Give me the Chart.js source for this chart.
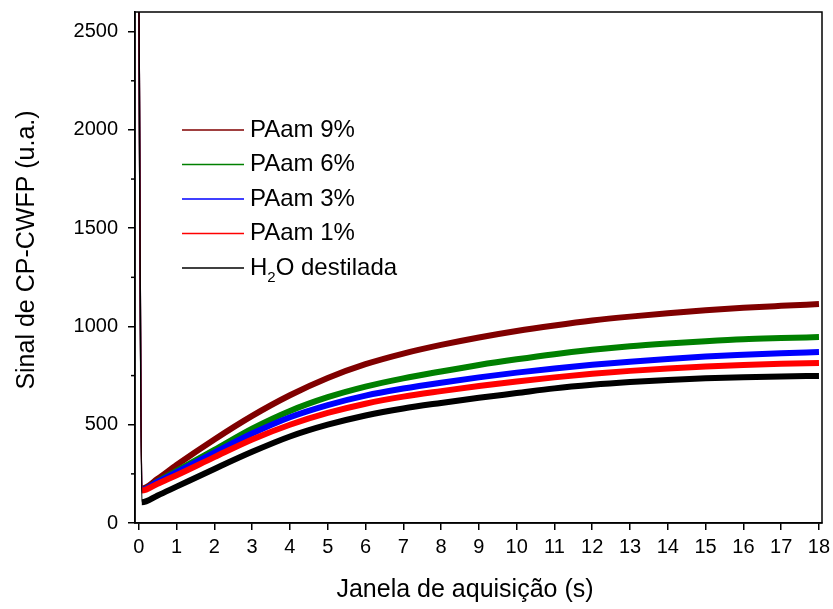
<!DOCTYPE html>
<html>
<head>
<meta charset="utf-8">
<script src="https://cdn.jsdelivr.net/npm/chart.js@4/dist/chart.umd.min.js"></script>
<style>
  html, body { margin: 0; padding: 0; background: #fff; }
  #wrap { width: 833px; height: 609px; }
</style>
</head>
<body>
<div id="wrap"><canvas id="chart" width="833" height="609"></canvas></div>
<script>
// acquisition time (s)
const times = [0, 0.08, 0.5, 1, 2, 3, 4, 5, 6, 7, 8, 9, 10, 11, 12, 13, 14, 15, 16, 17, 18]

// CP-CWFP signal (u.a.)
const paam9 = [2800, 175, 225, 295, 425, 545, 650, 738, 808, 862, 906, 944, 977, 1005, 1030, 1050, 1067, 1082, 1095, 1105, 1114]
const paam6 = [2800, 170, 212, 265, 372, 480, 570, 640, 694, 736, 771, 804, 833, 859, 881, 899, 913, 925, 935, 941, 946]
const paam3 = [2800, 170, 210, 258, 358, 455, 538, 600, 648, 684, 714, 741, 765, 786, 805, 821, 835, 847, 856, 864, 870]
const paam1 = [2800, 165, 200, 243, 335, 425, 500, 560, 607, 643, 671, 697, 720, 741, 759, 774, 786, 796, 804, 810, 814]
const agua = [2800, 105, 140, 185, 275, 362, 440, 500, 547, 583, 611, 637, 661, 685, 703, 717, 728, 736, 742, 746, 748]

const labels = ["PAam 9%", "PAam 6%", "PAam 3%", "PAam 1%", "H₂O destilada"]
const colors = ["#800000", "#008000", "#0000ff", "#ff0000", "#000000"]
const series = [paam9, paam6, paam3, paam1, agua]

const xTicks = [0, 1, 2, 3, 4, 5, 6, 7, 8, 9, 10, 11, 12, 13, 14, 15, 16, 17, 18]
const yTicks = [0, 500, 1000, 1500, 2000, 2500]
const yMinor = [250, 750, 1250, 1750, 2250]

const FONT = "'Liberation Sans', Arial, sans-serif"

// box around the plot, minor ticks, axis titles and the legend
const decor = {
  id: "decor",
  afterDraw(chart) {
    const { ctx, chartArea: a, scales } = chart
    ctx.save()
    ctx.strokeStyle = "#000"
    ctx.lineWidth = 1.5
    ctx.strokeRect(a.left, a.top, a.right - a.left, a.bottom - a.top)

    yMinor.forEach(v => {
      const y = scales.y.getPixelForValue(v)
      ctx.beginPath()
      ctx.moveTo(a.left - 4, y)
      ctx.lineTo(a.left, y)
      ctx.stroke()
    })

    ctx.fillStyle = "#000"
    ctx.font = "25px " + FONT
    ctx.textAlign = "center"
    ctx.textBaseline = "middle"
    ctx.fillText("Janela de aquisição (s)", 465, 590)

    ctx.save()
    ctx.translate(27, 250)
    ctx.rotate(-Math.PI / 2)
    ctx.fillText("Sinal de CP-CWFP (u.a.)", 0, 0)
    ctx.restore()

    // legend
    ctx.textAlign = "left"
    chart.data.datasets.forEach((ds, i) => {
      const y = 130 + i * 34.5
      ctx.strokeStyle = ds.borderColor
      ctx.lineWidth = 1.5
      ctx.beginPath()
      ctx.moveTo(182, y)
      ctx.lineTo(244, y)
      ctx.stroke()
      ctx.font = "24px " + FONT
      const parts = ds.label.split("₂")
      if (parts.length === 1) {
        ctx.fillText(ds.label, 250, y)
      } else {
        let x = 250
        ctx.fillText(parts[0], x, y)
        x += ctx.measureText(parts[0]).width
        ctx.font = "15px " + FONT
        ctx.fillText("2", x, y + 10)
        x += ctx.measureText("2").width
        ctx.font = "24px " + FONT
        ctx.fillText(parts[1], x, y)
      }
    })
    ctx.restore()
  }
}

new Chart(document.getElementById("chart"), {
  type: "line",
  data: {
    labels: times,
    datasets: series.map((vals, i) => ({
      label: labels[i],
      data: times.map((t, j) => ({ x: t, y: vals[j] })),
      borderColor: colors[i],
      backgroundColor: colors[i],
      borderWidth: 6,
      segment: { borderWidth: c => (c.p0DataIndex === 0 ? 1.5 : 6) },
      order: series.length - i,
      pointRadius: 0,
      cubicInterpolationMode: "monotone",
      fill: false
    }))
  },
  options: {
    responsive: false,
    animation: false,
    layout: { padding: { top: 12, right: 11, left: 0, bottom: 0 } },
    plugins: {
      legend: { display: false },
      tooltip: { enabled: false }
    },
    scales: {
      x: {
        type: "linear",
        min: -0.1,
        max: 18.08,
        afterBuildTicks: s => { s.ticks = xTicks.map(v => ({ value: v })) },
        afterFit: s => { s.height = 86; s.paddingLeft = 0; s.paddingRight = 0 },
        ticks: { color: "#000", font: { size: 20, family: FONT }, padding: 5, maxRotation: 0, autoSkip: false, callback: v => v },
        grid: { drawOnChartArea: false, drawTicks: true, tickLength: 7, color: "#000", lineWidth: 1.5 },
        border: { display: true, color: "#000", width: 1.5 }
      },
      y: {
        min: 0,
        max: 2600,
        afterBuildTicks: s => { s.ticks = yTicks.map(v => ({ value: v })) },
        afterFit: s => { s.width = 135; s.paddingTop = 0; s.paddingBottom = 0 },
        ticks: { color: "#000", font: { size: 20, family: FONT }, padding: 10, callback: v => v },
        grid: { drawOnChartArea: false, drawTicks: true, tickLength: 7, color: "#000", lineWidth: 1.5 },
        border: { display: true, color: "#000", width: 1.5 }
      }
    }
  },
  plugins: [decor]
})
</script>
</body>
</html>
